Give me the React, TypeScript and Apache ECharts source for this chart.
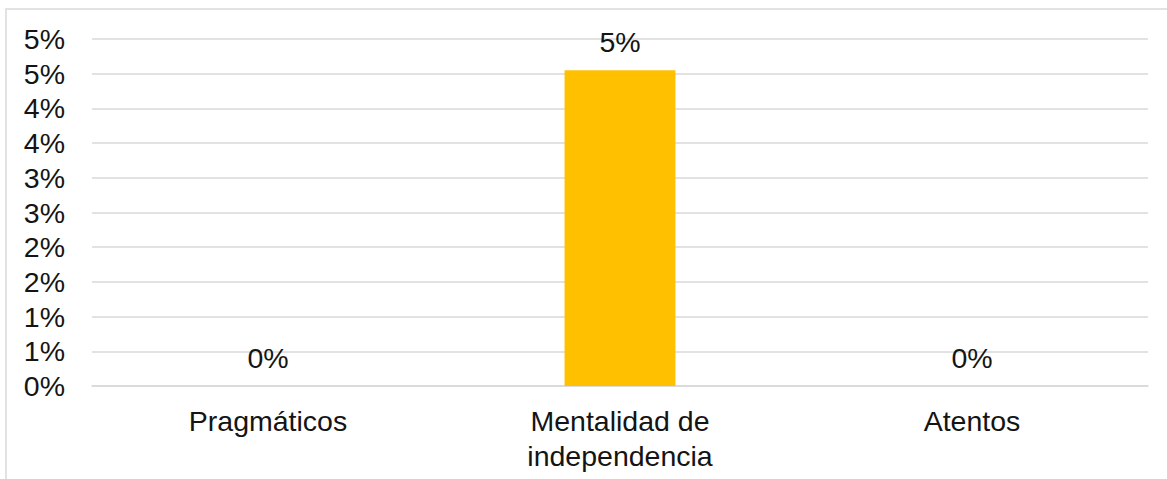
import React, { useEffect, useRef } from "react";
import * as echarts from "echarts";

const categories = ["Pragmáticos", "Mentalidad de\nindependencia", "Atentos"];
const values = [0, 4.55, 0];
const yMin = 0;
const yMax = 5;
const yInterval = 0.5;

const FONT = "'Liberation Sans', Arial, sans-serif";
const TEXT = "#141414";
const GRID = "#d9d9d9";

export default function App() {
  const ref = useRef<HTMLDivElement>(null);
  useEffect(() => {
    document.body.style.margin = "0";
    const chart = echarts.init(ref.current!, null, { renderer: "svg" });
    chart.setOption({
      animation: false,
      backgroundColor: "#ffffff",
      textStyle: { fontFamily: FONT },
      graphic: [
        {
          type: "rect",
          shape: { x: 6, y: 9, width: 1300, height: 600 },
          style: { fill: "none", stroke: GRID, lineWidth: 1.5 },
          silent: true,
        },
      ],
      grid: { left: 92, right: 19, top: 39, bottom: 93 },
      xAxis: {
        type: "category",
        data: categories,
        axisLine: { show: true, lineStyle: { color: GRID, width: 1.5 } },
        axisTick: { show: false },
        axisLabel: {
          interval: 0,
          color: TEXT,
          fontSize: 28.5,
          fontFamily: FONT,
          lineHeight: 35,
          margin: 17,
        },
      },
      yAxis: {
        type: "value",
        min: yMin,
        max: yMax,
        interval: yInterval,
        axisLine: { show: false },
        axisTick: { show: false },
        splitLine: { show: true, lineStyle: { color: GRID, width: 1.5 } },
        axisLabel: {
          color: TEXT,
          fontSize: 28.5,
          fontFamily: FONT,
          margin: 27,
          formatter: (v: number) => Math.round(v) + "%",
        },
      },
      series: [
        {
          type: "bar",
          data: values,
          barWidth: "31.5%",
          itemStyle: { color: "#FFC000" },
          label: {
            show: true,
            position: "top",
            distance: 14,
            color: TEXT,
            fontSize: 28.5,
            fontFamily: FONT,
            formatter: (p: any) => Math.round(p.value) + "%",
          },
        },
      ],
    });
    return () => chart.dispose();
  }, []);
  return <div ref={ref} style={{ width: 1167, height: 479 }} />;
}
